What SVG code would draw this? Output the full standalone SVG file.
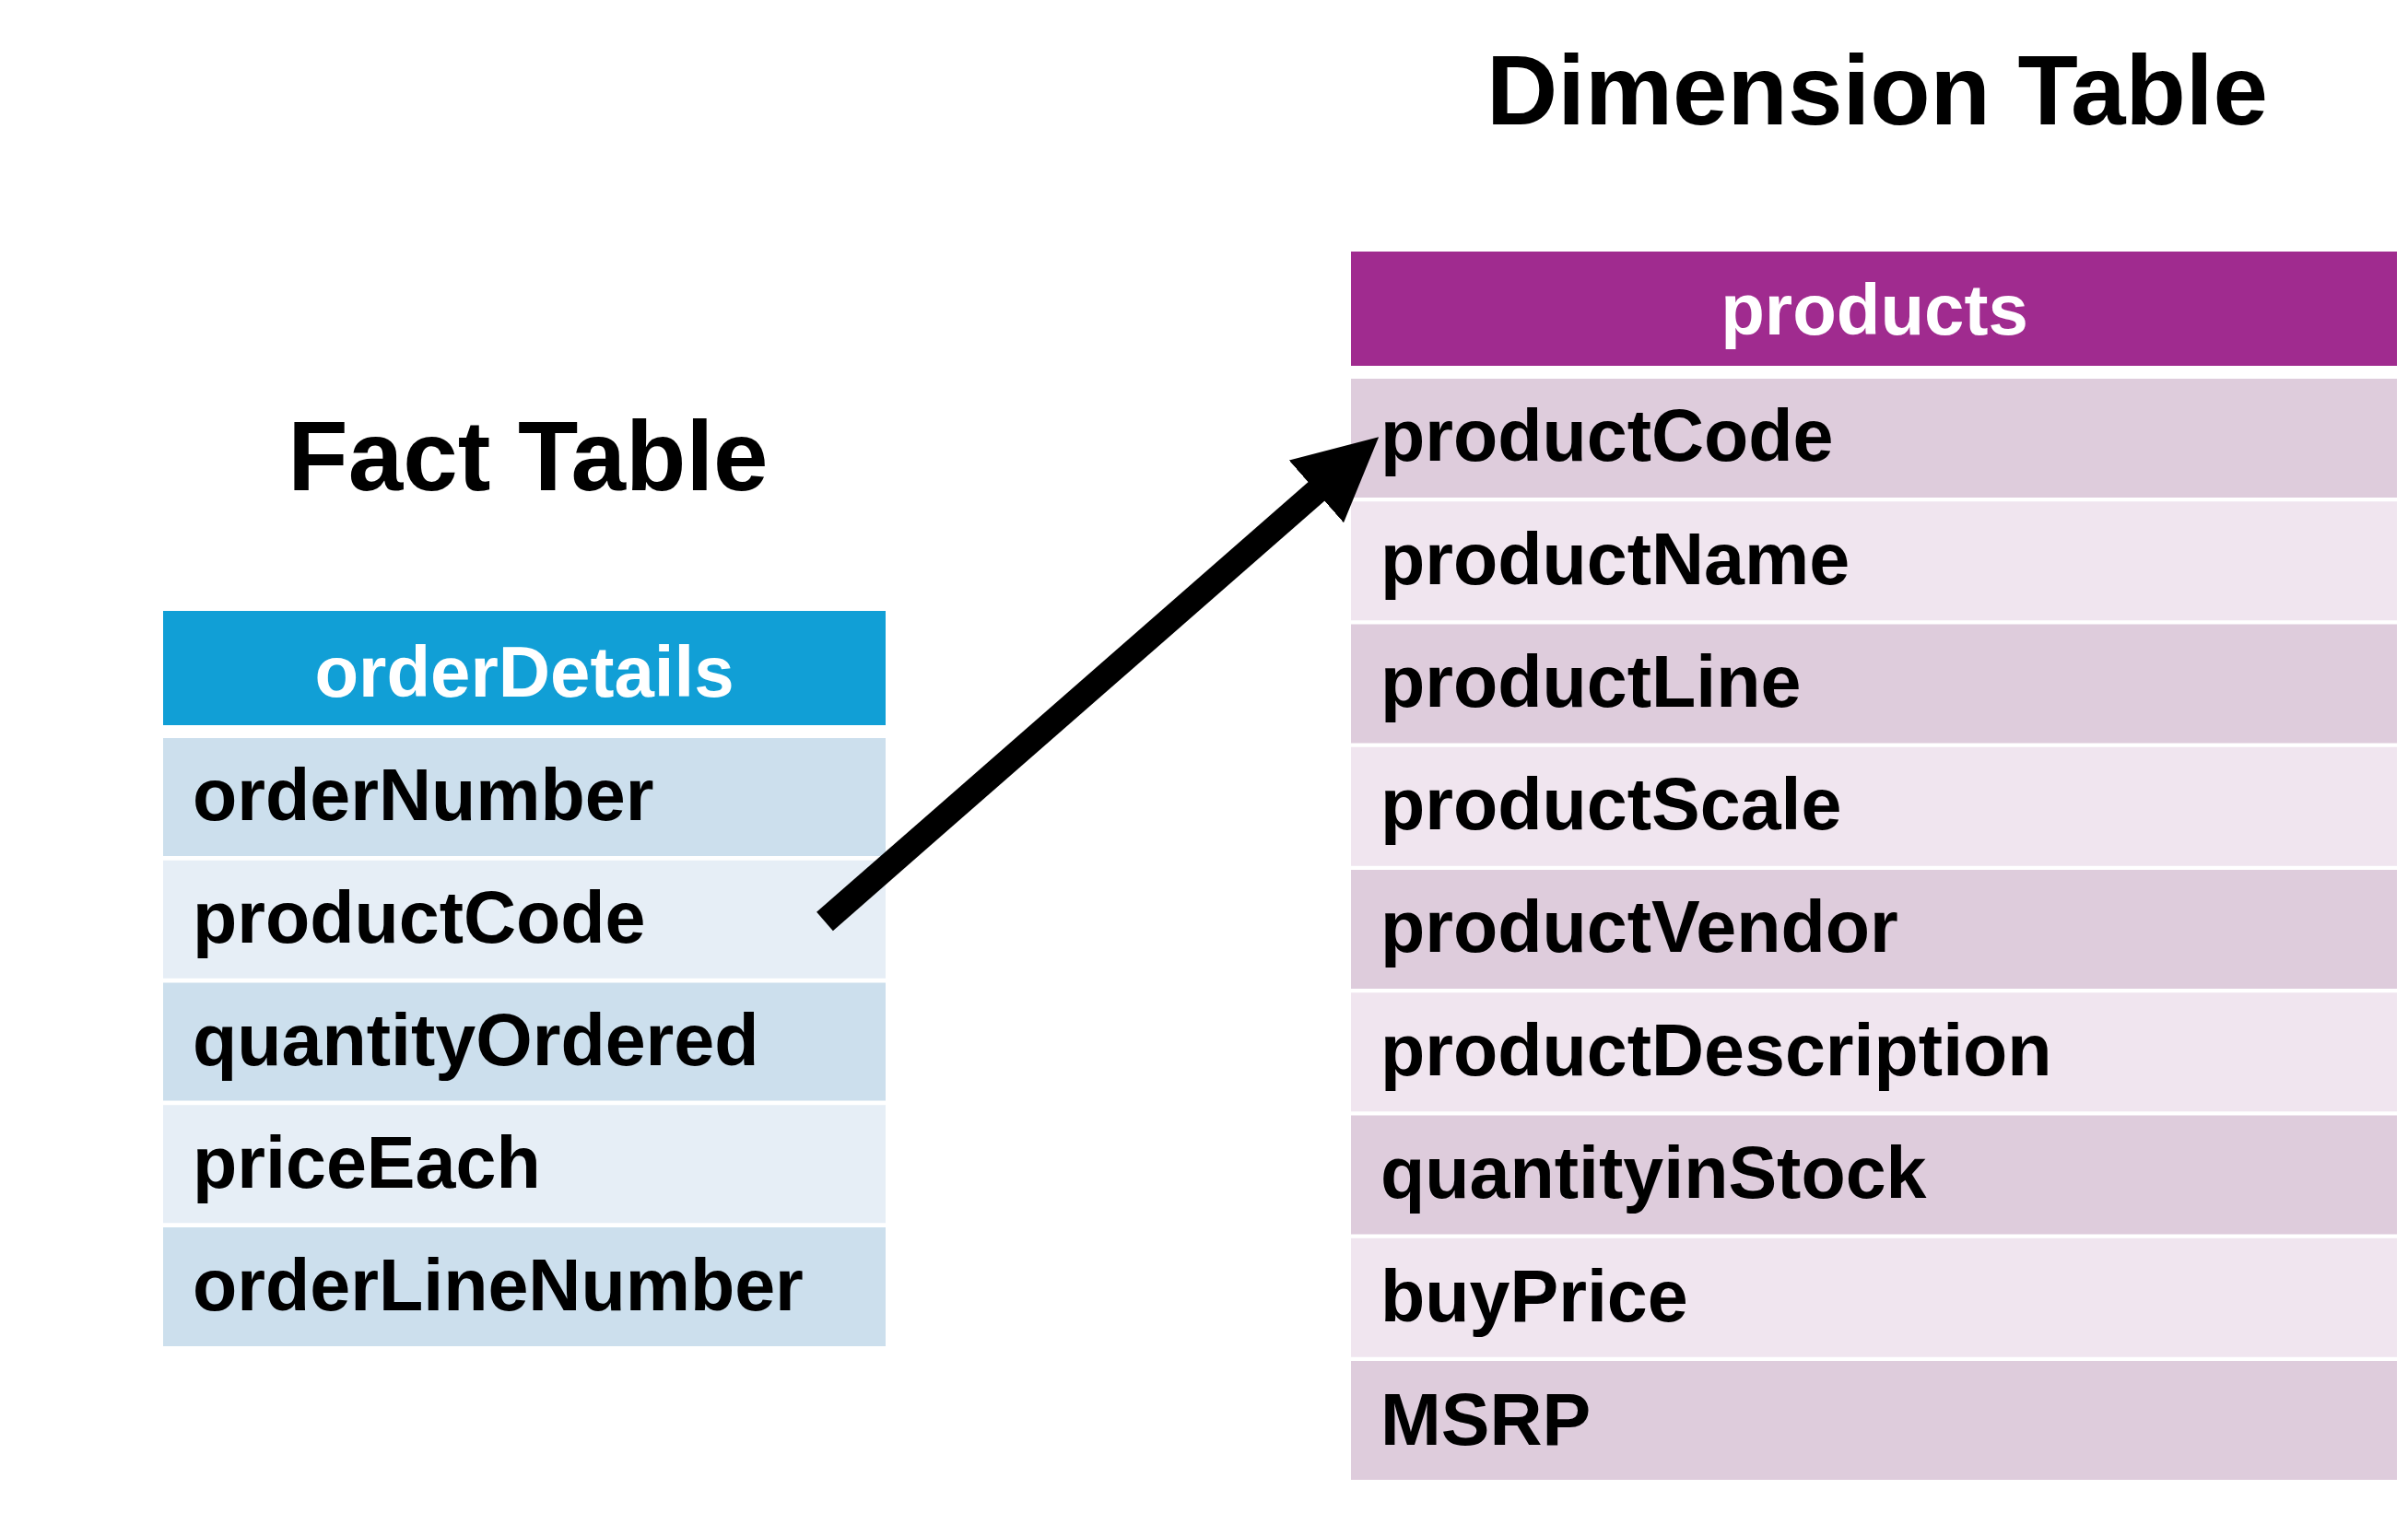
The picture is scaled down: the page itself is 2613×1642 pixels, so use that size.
<svg xmlns="http://www.w3.org/2000/svg" width="2613" height="1642" viewBox="0 0 2613 1642">
<style>
.title{font-family:"Liberation Sans",Arial,sans-serif;font-weight:bold;font-size:107px;fill:#000;text-anchor:middle}
.hdr{font-family:"Liberation Sans",Arial,sans-serif;font-weight:bold;font-size:78px;fill:#fff;text-anchor:middle}
.fld{font-family:"Liberation Sans",Arial,sans-serif;font-weight:bold;font-size:79px;fill:#000}
.bh{fill:#119FD6}.b1{fill:#CCDFED}.b2{fill:#E6EEF6}
.ph{fill:#A02B8F}.p1{fill:#DECCDC}.p2{fill:#F0E5EF}
</style>
<defs>
<marker id="ah" markerUnits="userSpaceOnUse" markerWidth="90" markerHeight="90" viewBox="0 0 84 84" refX="2" refY="42" orient="auto">
<path d="M0,0 L84,42 L0,84 Z" fill="#000"/>
</marker>
</defs>
<rect width="2613" height="1642" fill="#fff"/>
<text class="title" x="573" y="532">Fact Table</text>
<text class="title" x="2037" y="135">Dimension Table</text>
<g id="orderDetails">
<rect class="bh" x="177" y="663" width="784" height="124"/>
<text class="hdr" x="569" y="756">orderDetails</text>
<rect class="b1" x="177" y="801" width="784" height="128"/>
<text class="fld" x="209" y="890">orderNumber</text>
<rect class="b2" x="177" y="933.75" width="784" height="128"/>
<text class="fld" x="209" y="1023">productCode</text>
<rect class="b1" x="177" y="1066.5" width="784" height="128"/>
<text class="fld" x="209" y="1156">quantityOrdered</text>
<rect class="b2" x="177" y="1199.25" width="784" height="128"/>
<text class="fld" x="209" y="1289">priceEach</text>
<rect class="b1" x="177" y="1332" width="784" height="129"/>
<text class="fld" x="209" y="1422">orderLineNumber</text>
</g>
<g id="products">
<rect class="ph" x="1466" y="273" width="1135" height="124"/>
<text class="hdr" x="2034" y="363">products</text>
<rect class="p1" x="1466" y="411" width="1135" height="129"/>
<text class="fld" x="1498" y="500">productCode</text>
<rect class="p2" x="1466" y="544.25" width="1135" height="129"/>
<text class="fld" x="1498" y="634">productName</text>
<rect class="p1" x="1466" y="677.5" width="1135" height="129"/>
<text class="fld" x="1498" y="767">productLine</text>
<rect class="p2" x="1466" y="810.75" width="1135" height="129"/>
<text class="fld" x="1498" y="900">productScale</text>
<rect class="p1" x="1466" y="944" width="1135" height="129"/>
<text class="fld" x="1498" y="1033">productVendor</text>
<rect class="p2" x="1466" y="1077.25" width="1135" height="129"/>
<text class="fld" x="1498" y="1167">productDescription</text>
<rect class="p1" x="1466" y="1210.5" width="1135" height="129"/>
<text class="fld" x="1498" y="1300">quantityinStock</text>
<rect class="p2" x="1466" y="1343.75" width="1135" height="129"/>
<text class="fld" x="1498" y="1434">buyPrice</text>
<rect class="p1" x="1466" y="1477" width="1135" height="129"/>
<text class="fld" x="1498" y="1568">MSRP</text>
</g>
<g id="connectors">
<line x1="895" y1="1000" x2="1430" y2="532" stroke="#000" stroke-width="27" marker-end="url(#ah)"/>
</g>
</svg>
